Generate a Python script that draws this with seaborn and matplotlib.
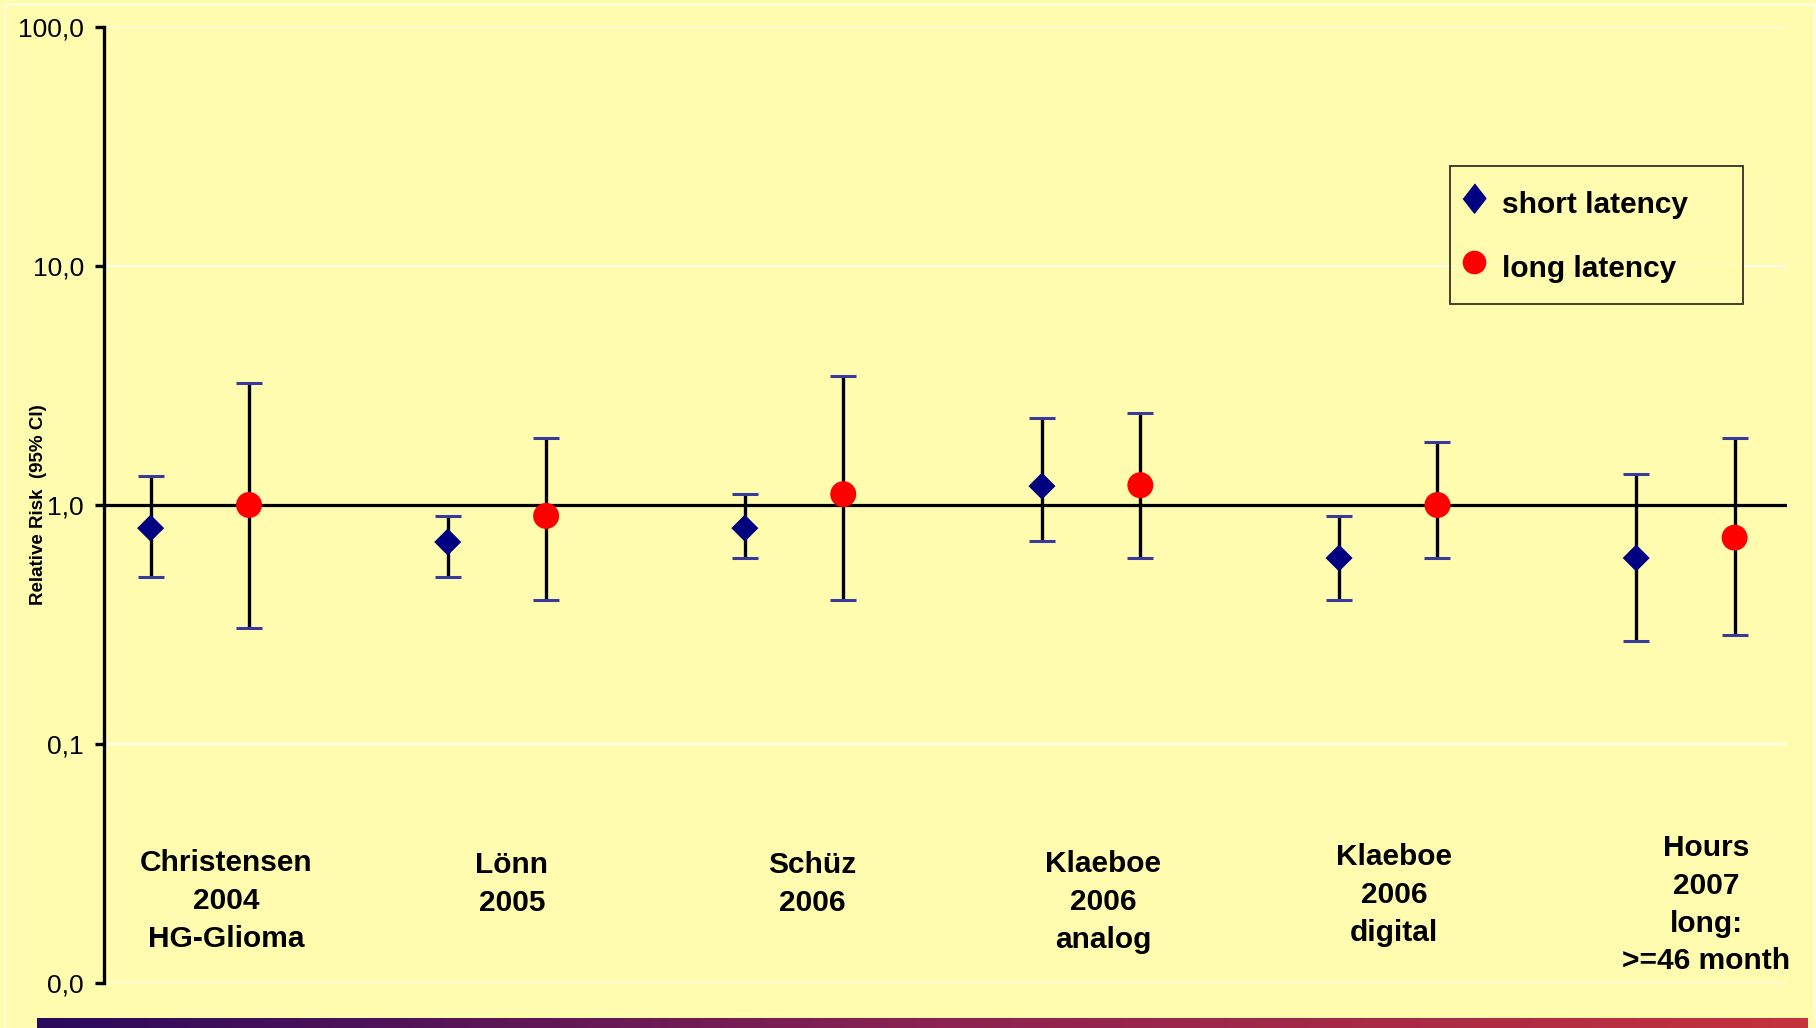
import numpy as np
import pandas as pd
import matplotlib
matplotlib.use("Agg")
import matplotlib.pyplot as plt
import matplotlib.transforms as mtransforms
import seaborn as sns
from matplotlib.lines import Line2D
from matplotlib.colors import LinearSegmentedColormap
from matplotlib.ticker import FixedLocator, NullLocator, FixedFormatter

# Studies and relative risk values (95% CI)
studies = ["Christensen\n2004\nHG-Glioma", "Lönn\n2005", "Schüz\n2006",
           "Klaeboe\n2006\nanalog", "Klaeboe\n2006\ndigital",
           "Hours\n2007\nlong:\n>=46 month"]
short_rr = [0.80, 0.70, 0.80, 1.20, 0.60, 0.60]
short_lo = [0.50, 0.50, 0.60, 0.71, 0.40, 0.27]
short_hi = [1.32, 0.90, 1.11, 2.31, 0.90, 1.35]
long_rr = [1.00, 0.90, 1.11, 1.21, 1.00, 0.73]
long_lo = [0.305, 0.40, 0.40, 0.60, 0.60, 0.286]
long_hi = [3.23, 1.91, 3.46, 2.42, 1.83, 1.91]
y_ticks = [0.01, 0.1, 1, 10, 100]
y_tick_labels = ["0,0", "0,1", "1,0", "10,0", "100,0"]

bg = "#FFFCAF"
navy = "#000080"
red = "#FF0000"
cap_col = "#3A3A9A"

n = len(studies)
df = pd.DataFrame({
    "study": list(range(n)) * 2,
    "latency": ["short latency"] * n + ["long latency"] * n,
    "rr": short_rr + long_rr,
    "lo": short_lo + long_lo,
    "hi": short_hi + long_hi,
})
df["x"] = df["study"] + np.where(df["latency"] == "short latency", -0.1656, 0.1656)

plt.rcParams["font.family"] = ["Liberation Sans", "DejaVu Sans"]

fig = plt.figure(figsize=(18.16, 10.28), dpi=100, facecolor=bg)
ax = fig.add_axes([104 / 1816, 1 - 983 / 1028, 1683 / 1816, 956 / 1028])
ax.set_facecolor(bg)
ax.set_yscale("log")

# error bars
for lat in ["short latency", "long latency"]:
    d = df[df["latency"] == lat]
    eb = ax.errorbar(d["x"], d["rr"], yerr=[d["rr"] - d["lo"], d["hi"] - d["rr"]],
                     fmt="none", ecolor="black", elinewidth=2.4,
                     capsize=9.7, capthick=2.2, zorder=3)
    for cl in eb[1]:
        cl.set_markeredgecolor(cap_col)
        cl.set_zorder(3.5)

# points
d_s = df[df["latency"] == "short latency"]
d_l = df[df["latency"] == "long latency"]
sns.scatterplot(data=d_s, x="x", y="rr", marker="D", color=navy, s=190,
                edgecolor="none", ax=ax, zorder=4, legend=False)
sns.scatterplot(data=d_l, x="x", y="rr", marker="o", color=red, s=350,
                edgecolor="none", ax=ax, zorder=4, legend=False)

# reference line at 1.0 (x axis crossing)
ax.axhline(1.0, color="black", lw=2.3, zorder=2)

ax.set_xlim(-0.3225, 5.342)
ax.set_ylim(0.01, 100)
ax.yaxis.set_major_locator(FixedLocator(y_ticks))
ax.yaxis.set_major_formatter(FixedFormatter(y_tick_labels))
ax.yaxis.set_minor_locator(NullLocator())
ax.set_xticks([])
ax.set_xlabel("")
ax.tick_params(axis="y", direction="out", length=6.5, width=2.4, pad=8,
               labelsize=19, colors="black")
ax.yaxis.grid(True, color="white", lw=1.2, zorder=0)
ax.set_axisbelow(True)
for s in ["top", "right", "bottom"]:
    ax.spines[s].set_visible(False)
ax.spines["left"].set_linewidth(2.4)
ax.spines["left"].set_color("black")

ax.set_ylabel("Relative Risk  (95% CI)", fontsize=13.5, fontweight="bold")
ax.yaxis.set_label_coords(-0.034, 0.5)

# study labels
label_dx = [0.09, 0.05, 0.06, 0.04, 0.02, 0.07]
label_y = [0.0858, 0.104, 0.104, 0.0847, 0.092, 0.082]
trans = mtransforms.blended_transform_factory(ax.transData, ax.transAxes)
for i, name in enumerate(studies):
    ax.text(i + label_dx[i], label_y[i], name, transform=trans, ha="center",
            va="center", fontsize=21.5, fontweight="bold", linespacing=1.45,
            multialignment="center")

# legend
handles = [
    Line2D([], [], linestyle="none", marker=[(0, 1), (0.78, 0), (0, -1), (-0.78, 0)],
           markersize=21, color=navy, label="short latency"),
    Line2D([], [], linestyle="none", marker="o", markersize=16, color=red,
           label="long latency"),
]
leg = ax.legend(handles=handles, loc="upper left",
                bbox_to_anchor=(0.800, 0.8536, 0.1741, 0.001), mode="expand",
                frameon=True, fancybox=False, facecolor=bg, edgecolor="black",
                prop={"size": 21.5, "weight": "bold"}, labelspacing=0.85,
                handleheight=1.6, handletextpad=0.79, borderpad=0.6,
                handlelength=0.35, borderaxespad=0)
leg.get_frame().set_linewidth(1.3)

# white frame around the chart area
fig.add_artist(Line2D([5 / 1816, 1814 / 1816], [1 - 4 / 1028] * 2,
                      transform=fig.transFigure, color="white", lw=1))
fig.add_artist(Line2D([5 / 1816] * 2, [0, 1 - 4 / 1028],
                      transform=fig.transFigure, color="white", lw=1))
fig.add_artist(Line2D([1814 / 1816] * 2, [10 / 1028, 1 - 4 / 1028],
                      transform=fig.transFigure, color="white", lw=1))

# gradient bar at the bottom
gax = fig.add_axes([37 / 1816, 0, (1808 - 37) / 1816, 10 / 1028])
cmap = LinearSegmentedColormap.from_list("bar", ["#2A0A5C", "#8A2252", "#C4323C"])
grad = np.linspace(0, 1, 512)[None, :]
gax.imshow(grad, aspect="auto", cmap=cmap, extent=[0, 1, 0, 1])
gax.set_axis_off()

fig.savefig("out.png", dpi=100, facecolor=bg)
